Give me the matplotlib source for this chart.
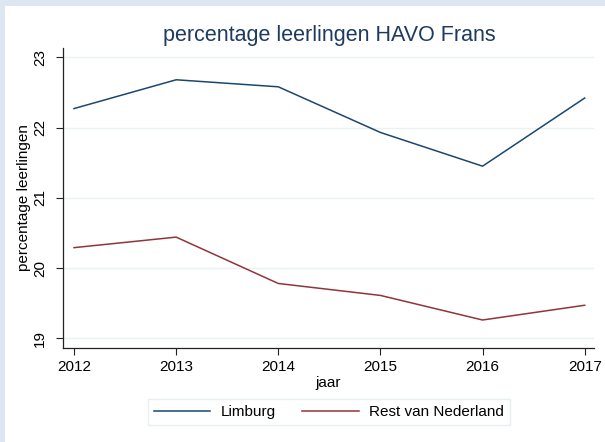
import matplotlib.pyplot as plt
from matplotlib.patches import Rectangle

plt.rcParams['font.family'] = ['Liberation Sans', 'DejaVu Sans']

# data
jaren = [2012, 2013, 2014, 2015, 2016, 2017]
limburg = [22.27, 22.68, 22.58, 21.93, 21.45, 22.42]
rest_nl = [20.29, 20.44, 19.78, 19.61, 19.26, 19.47]
y_ticks = [19, 20, 21, 22, 23]

fig = plt.figure(figsize=(6.05, 4.42), dpi=100)
fig.patch.set_facecolor('#dce7f3')
# white panel, leaving a light blue band at top and left
fig.patches.append(Rectangle((5 / 605, 0), 1, 1 - 6 / 442, transform=fig.transFigure,
                             facecolor='white', edgecolor='none', zorder=-1))

ax = fig.add_axes([0.1046, 0.2134, 0.9818 - 0.1046, 0.8907 - 0.2134])
ax.set_facecolor('white')

ax.plot(jaren, limburg, color='#1a476f', lw=1.1, label='Limburg')
ax.plot(jaren, rest_nl, color='#90353b', lw=1.1, label='Rest van Nederland')

ax.set_xlim(2012 - 0.105, 2017 + 0.091)
ax.set_ylim(18.866, 23.128)
ax.set_xticks(jaren)
ax.set_yticks(y_ticks)
ax.grid(axis='y', color='#eaf2f3', lw=1)
ax.set_axisbelow(True)

for s in ['top', 'right']:
    ax.spines[s].set_visible(False)
for s in ['left', 'bottom']:
    ax.spines[s].set_color('#222222')
    ax.spines[s].set_linewidth(0.9)

ax.tick_params(axis='both', length=5, width=0.8, color='#222222', labelsize=11)
ax.tick_params(axis='y', pad=6.5)
ax.tick_params(axis='x', pad=4)
for lab in ax.get_yticklabels():
    lab.set_rotation(90)
    lab.set_va('center')

ax.set_ylabel('percentage leerlingen', fontsize=11)
ax.yaxis.set_label_coords(-0.061, 0.5)
ax.set_xlabel('jaar', fontsize=11, labelpad=1)

fig.suptitle('percentage leerlingen HAVO Frans', x=329 / 605, y=1 - 35 / 442,
             va='center', fontsize=15.5, color='#1e3a5f')

leg = fig.legend(loc='center', bbox_to_anchor=(329 / 605, 1 - 412 / 442), ncol=2,
                 fontsize=11, frameon=True, fancybox=False, handlelength=3.7,
                 columnspacing=1.7, handletextpad=0.7, borderpad=0.4)
leg.get_frame().set_edgecolor('#e2ecef')
leg.get_frame().set_linewidth(1)

fig.savefig('out.png', dpi=100)
